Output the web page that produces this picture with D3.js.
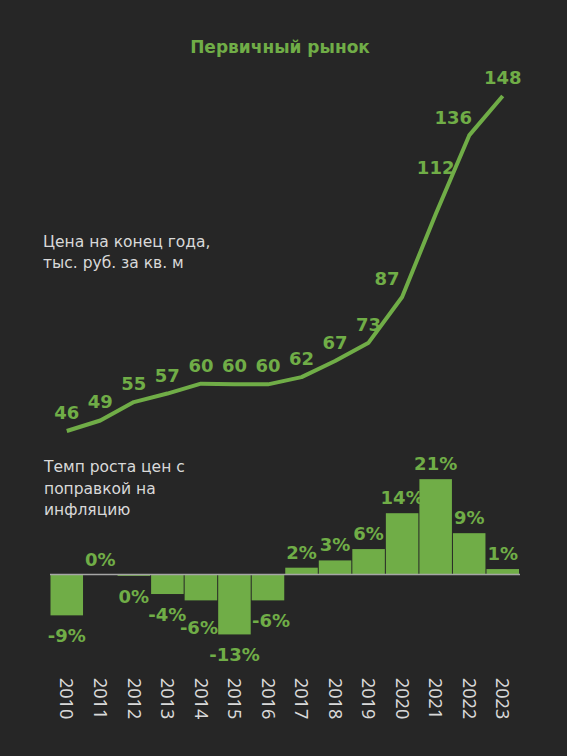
<!DOCTYPE html>
<html>
<head>
<meta charset="utf-8">
<script src="https://cdn.jsdelivr.net/npm/d3@7"></script>
<style>
  html, body { margin: 0; padding: 0; background: #262626; }
  svg { display: block; }
  .note { font-family: "DejaVu Sans", sans-serif; font-size: 15.5px; fill: #d9d9d9; }
  .val { font-family: "DejaVu Sans", sans-serif; font-weight: bold; font-size: 18px; fill: #70ad47; }
  .year { font-family: "Noto Sans", sans-serif; font-size: 18px; fill: #d9d9d9; }
</style>
</head>
<body>
<svg id="chart"></svg>
<script>
const W = 567;
const H = 756;
const GREEN = "#70ad47";

// данные
const years = ["2010", "2011", "2012", "2013", "2014", "2015", "2016",
               "2017", "2018", "2019", "2020", "2021", "2022", "2023"];
const price = [46, 49.2, 54.8, 57.4, 60.4, 60.2, 60.2, 62.4, 67.3, 72.9, 86.8, 112, 136, 148];
const growth = [-9, 0, -0.3, -4.3, -5.7, -13.2, -5.7, 1.5, 3.1, 5.6, 13.5, 21, 9.1, 1.2];

// сдвиги подписей, чтобы не налезали на линию
const priceNudge = { "2020": [-15, 0], "2021": [0, -28], "2022": [-16, 1] };
const growthNudge = { "2014": [-2, 7], "2016": [3, 0] };

const svg = d3.select("#chart")
  .attr("width", W)
  .attr("height", H);

svg.append("rect")
  .attr("width", W)
  .attr("height", H)
  .attr("fill", "#262626");

const x = d3.scaleBand()
  .domain(years)
  .range([50, 519.5])
  .paddingInner(0.03)
  .paddingOuter(0.015);

const cx = d => x(d) + x.bandwidth() / 2;

/* заголовок */
svg.append("text")
  .attr("x", 280)
  .attr("y", 53)
  .attr("text-anchor", "middle")
  .attr("font-family", "DejaVu Sans, sans-serif")
  .attr("font-weight", "bold")
  .attr("font-size", 17)
  .attr("fill", GREEN)
  .text("Первичный рынок");

/* подписи слева */
const note1 = svg.append("text").attr("class", "note");
["Цена на конец года,", "тыс. руб. за кв. м"].forEach((t, i) => {
  note1.append("tspan").attr("x", 43).attr("y", 247 + i * 21).text(t);
});

const note2 = svg.append("text").attr("class", "note");
["Темп роста цен с", "поправкой на", "инфляцию"].forEach((t, i) => {
  note2.append("tspan").attr("x", 44).attr("y", 472 + i * 21.5).text(t);
});

/* =========================
   линия цены
   ========================= */
const yLine = d3.scaleLinear()
  .domain([46, 148])
  .range([431, 96]);

const line = d3.line()
  .x((d, i) => cx(years[i]))
  .y(d => yLine(d));

svg.append("path")
  .datum(price)
  .attr("fill", "none")
  .attr("stroke", GREEN)
  .attr("stroke-width", 4)
  .attr("stroke-linejoin", "round")
  .attr("d", line);

svg.selectAll("text.pval")
  .data(price)
  .enter()
  .append("text")
  .attr("class", "val pval")
  .attr("text-anchor", "middle")
  .attr("x", (d, i) => cx(years[i]) + (priceNudge[years[i]] || [0, 0])[0])
  .attr("y", (d, i) => yLine(d) - 12 + (priceNudge[years[i]] || [0, 0])[1])
  .text(d => Math.round(d));

/* =========================
   столбцы роста
   ========================= */
const yBar = d3.scaleLinear()
  .domain([-15, 25])
  .range([642.6, 461]);

svg.selectAll("rect.bar")
  .data(growth)
  .enter()
  .append("rect")
  .attr("class", "bar")
  .attr("x", (d, i) => x(years[i]))
  .attr("width", x.bandwidth())
  .attr("y", d => yBar(Math.max(0, d)))
  .attr("height", d => Math.abs(yBar(d) - yBar(0)))
  .attr("fill", GREEN);

svg.append("line")
  .attr("x1", 50)
  .attr("x2", 520)
  .attr("y1", yBar(0))
  .attr("y2", yBar(0))
  .attr("stroke", "#a6a6a6")
  .attr("stroke-width", 1.5);

svg.selectAll("text.gval")
  .data(growth)
  .enter()
  .append("text")
  .attr("class", "val gval")
  .attr("text-anchor", "middle")
  .attr("x", (d, i) => cx(years[i]) + (growthNudge[years[i]] || [0, 0])[0])
  .attr("y", (d, i) => {
    const n = (growthNudge[years[i]] || [0, 0])[1];
    return d >= 0 ? yBar(d) - 9 + n : yBar(d) + 27 + n;
  })
  .text(d => `${Math.round(d) || 0}%`);

/* годы */
svg.selectAll("text.year")
  .data(years)
  .enter()
  .append("text")
  .attr("class", "year")
  .attr("transform", d => `translate(${cx(d)},678) rotate(90)`)
  .attr("dy", "0.35em")
  .text(d => d);
</script>
</body>
</html>
